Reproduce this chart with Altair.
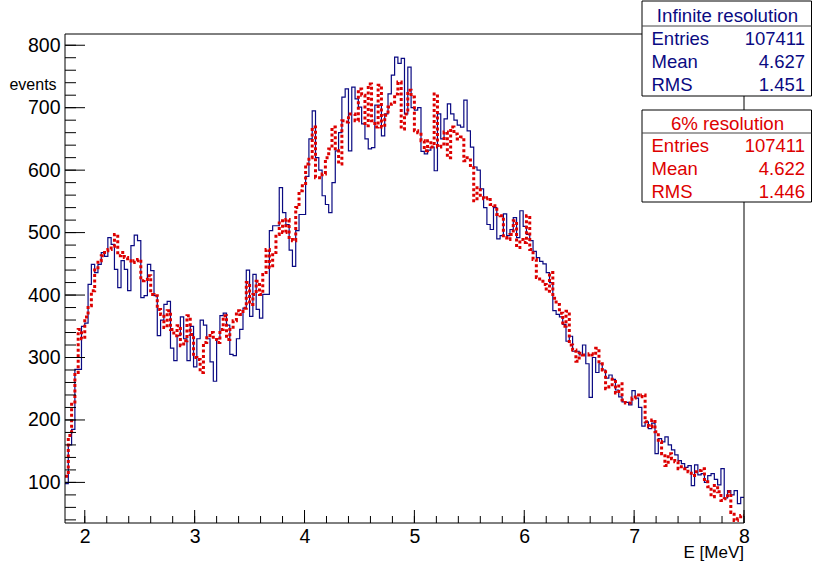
import altair as alt
import pandas as pd

# ---------------- data ----------------
X_START = 1.82
BIN_WIDTH = 0.03

infinite_counts = [
    98, 160, 185, 281, 281, 350, 355, 417, 449, 436,
    449, 468, 462, 492, 481, 441, 412, 455, 441, 407,
    479, 496, 487, 396, 399, 449, 439, 399, 335, 360,
    385, 390, 315, 295, 335, 365, 330, 295, 350, 285,
    330, 360, 352, 330, 293, 262, 330, 367, 371, 352,
    305, 303, 330, 345, 379, 440, 366, 433, 377, 363,
    401, 401, 503, 511, 511, 572, 532, 513, 472, 446,
    503, 529, 529, 590, 650, 695, 620, 600, 559, 545,
    532, 580, 631, 660, 717, 730, 631, 733, 714, 701,
    674, 650, 634, 636, 704, 704, 655, 690, 722, 752,
    781, 771, 779, 690, 765, 700, 696, 700, 630, 626,
    632, 637, 599, 690, 650, 682, 706, 690, 680, 672,
    669, 712, 663, 637, 605, 600, 570, 540, 513, 505,
    540, 490, 495, 530, 495, 505, 524, 492, 535, 510,
    497, 487, 470, 460, 454, 450, 436, 420, 375, 369,
    365, 353, 326, 334, 310, 310, 304, 320, 290, 236,
    300, 276, 290, 280, 267, 272, 265, 248, 237, 229,
    228, 224, 247, 235, 220, 190, 197, 186, 195, 146,
    170, 165, 173, 160, 152, 144, 135, 130, 124, 127,
    95, 128, 112, 114, 100, 111, 114, 105, 96, 122,
    75, 87, 80, 87, 66, 76,
]

smeared_counts = [
    110, 175, 225, 276, 345, 330, 365, 383, 407, 440,
    455, 463, 471, 473, 478, 497, 463, 468, 460, 455,
    452, 455, 457, 423, 425, 431, 401, 399, 377, 369,
    348, 375, 345, 335, 351, 319, 327, 367, 337, 300,
    297, 276, 324, 335, 340, 329, 324, 345, 367, 329,
    345, 359, 375, 369, 379, 420, 385, 401, 422, 401,
    433, 473, 444, 468, 497, 519, 500, 521, 489, 487,
    540, 567, 575, 610, 620, 669, 588, 588, 594, 620,
    634, 669, 631, 610, 679, 677, 690, 690, 679, 730,
    720, 671, 738, 679, 669, 736, 669, 688, 701, 706,
    722, 741, 666, 690, 728, 717, 663, 660, 647, 631,
    647, 637, 722, 637, 642, 661, 620, 669, 658, 650,
    653, 615, 620, 604, 551, 572, 556, 554, 556, 545,
    543, 529, 527, 492, 489, 497, 519, 476, 489, 484,
    527, 473, 457, 428, 422, 417, 406, 436, 395, 385,
    371, 350, 374, 320, 312, 294, 307, 304, 304, 306,
    304, 315, 290, 280, 250, 253, 265, 243, 258, 232,
    227, 227, 235, 240, 237, 240, 197, 189, 200, 181,
    165, 146, 127, 146, 138, 133, 122, 125, 122, 117,
    111, 117, 119, 122, 101, 93, 77, 95, 85, 71,
    74, 85, 52, 39, 42, 47,
]

x_major_ticks = [2, 3, 4, 5, 6, 7, 8]
x_minor_ticks = [round(2 + 0.2 * k, 1) for k in range(31)]
y_major_ticks = [100, 200, 300, 400, 500, 600, 700, 800]
y_minor_ticks = [40 + 20 * k for k in range(39)]

stat_names = ["Entries", "Mean", "RMS"]
infinite_title = "Infinite resolution"
infinite_stats = ["107411", "4.627", "1.451"]
smeared_title = "6% resolution"
smeared_stats = ["107411", "4.622", "1.446"]

# ---------------- styling ----------------
BLUE = "#0a0a82"
RED = "#dd0000"
FONT = "Liberation Sans"
W, H = 679, 489
X_DOMAIN = [1.82, 8.0]
Y_DOMAIN = [35, 818]

xscale = alt.Scale(domain=X_DOMAIN, nice=False, zero=False)
yscale = alt.Scale(domain=Y_DOMAIN, nice=False, zero=False)


def step_frame(counts):
    n = len(counts)
    edges = [X_START + i * BIN_WIDTH for i in range(n + 1)]
    return pd.DataFrame({"E": edges, "events": list(counts) + [counts[-1]]})


x_axis = alt.Axis(values=x_major_ticks, format="d", title=None, ticks=False,
                  domain=False, grid=False, labelFont=FONT, labelFontSize=19.5,
                  labelColor="black", labelPadding=4, labelFlush=False)
y_axis = alt.Axis(values=y_major_ticks, format="d", title=None, ticks=False,
                  domain=False, grid=False, labelFont=FONT, labelFontSize=19.5,
                  labelColor="black", labelPadding=5)

blue_line = alt.Chart(step_frame(infinite_counts)).mark_line(
    interpolate="step-after", color=BLUE, strokeWidth=1.2
).encode(
    x=alt.X("E:Q", scale=xscale, axis=x_axis),
    y=alt.Y("events:Q", scale=yscale, axis=y_axis),
)

red_line = alt.Chart(step_frame(smeared_counts)).mark_line(
    interpolate="step-after", color=RED, strokeWidth=3, strokeDash=[3, 2.5]
).encode(
    x=alt.X("E:Q", scale=xscale, axis=x_axis),
    y=alt.Y("events:Q", scale=yscale, axis=y_axis),
)

frame = alt.Chart(pd.DataFrame({"a": [0]})).mark_rect(
    fillOpacity=0, stroke="black", strokeWidth=1
).encode(x=alt.value(0), x2=alt.value(W), y=alt.value(0), y2=alt.value(H))


def xticks(vals, length):
    return alt.Chart(pd.DataFrame({"E": vals})).mark_rule(
        color="black", strokeWidth=1
    ).encode(x=alt.X("E:Q", scale=xscale, axis=x_axis),
             y=alt.value(H), y2=alt.value(H - length))


def yticks(vals, length):
    return alt.Chart(pd.DataFrame({"events": vals})).mark_rule(
        color="black", strokeWidth=1
    ).encode(y=alt.Y("events:Q", scale=yscale, axis=y_axis),
             x=alt.value(0), x2=alt.value(length))


def text(s, x, y, align="left", color="black", size=17):
    return alt.Chart(pd.DataFrame({"t": [s]})).mark_text(
        align=align, baseline="middle", font=FONT, fontSize=size, color=color
    ).encode(text="t:N", x=alt.value(x), y=alt.value(y))


def stat_box(title, values, color, top, bottom, sep):
    layers = []
    layers.append(alt.Chart(pd.DataFrame({"a": [0]})).mark_rect(
        fill="white", stroke="black", strokeWidth=1
    ).encode(x=alt.value(577), x2=alt.value(746.5), y=alt.value(top),
             y2=alt.value(bottom)))
    layers.append(alt.Chart(pd.DataFrame({"a": [0]})).mark_rule(
        color="#444", strokeWidth=1
    ).encode(x=alt.value(577), x2=alt.value(746.5), y=alt.value(sep)))
    layers.append(text(title, 662.5, (top + sep) / 2 + 2, align="center",
                       color=color, size=18.7))
    row_h = (bottom - sep) / 3.0
    for k, (name, val) in enumerate(zip(stat_names, values)):
        yy = sep + row_h * (k + 0.5) + 1
        layers.append(text(name, 586.5, yy, align="left", color=color, size=18.5))
        layers.append(text(val, 740, yy, align="right", color=color, size=18.5))
    return layers


layers = [
    blue_line, red_line, frame,
    xticks(x_minor_ticks, 7), xticks(x_major_ticks, 13),
    yticks(y_minor_ticks, 11), yticks(y_major_ticks, 20),
    text("events", -32, 51, align="center", size=16),
    text("E [MeV]", W, 519, align="right", size=17),
]
layers += stat_box(infinite_title, infinite_stats, BLUE, -33, 62, -8)
layers += stat_box(smeared_title, smeared_stats, RED, 76, 168, 99)

chart = alt.layer(*layers).properties(
    width=W, height=H,
    autosize=alt.AutoSizeParams(type="none"),
    padding={"left": 65, "top": 34, "right": 69, "bottom": 53},
    background="white",
).configure_view(strokeWidth=0)

chart.save("out.html", embed_options={"renderer": "svg", "actions": False})
